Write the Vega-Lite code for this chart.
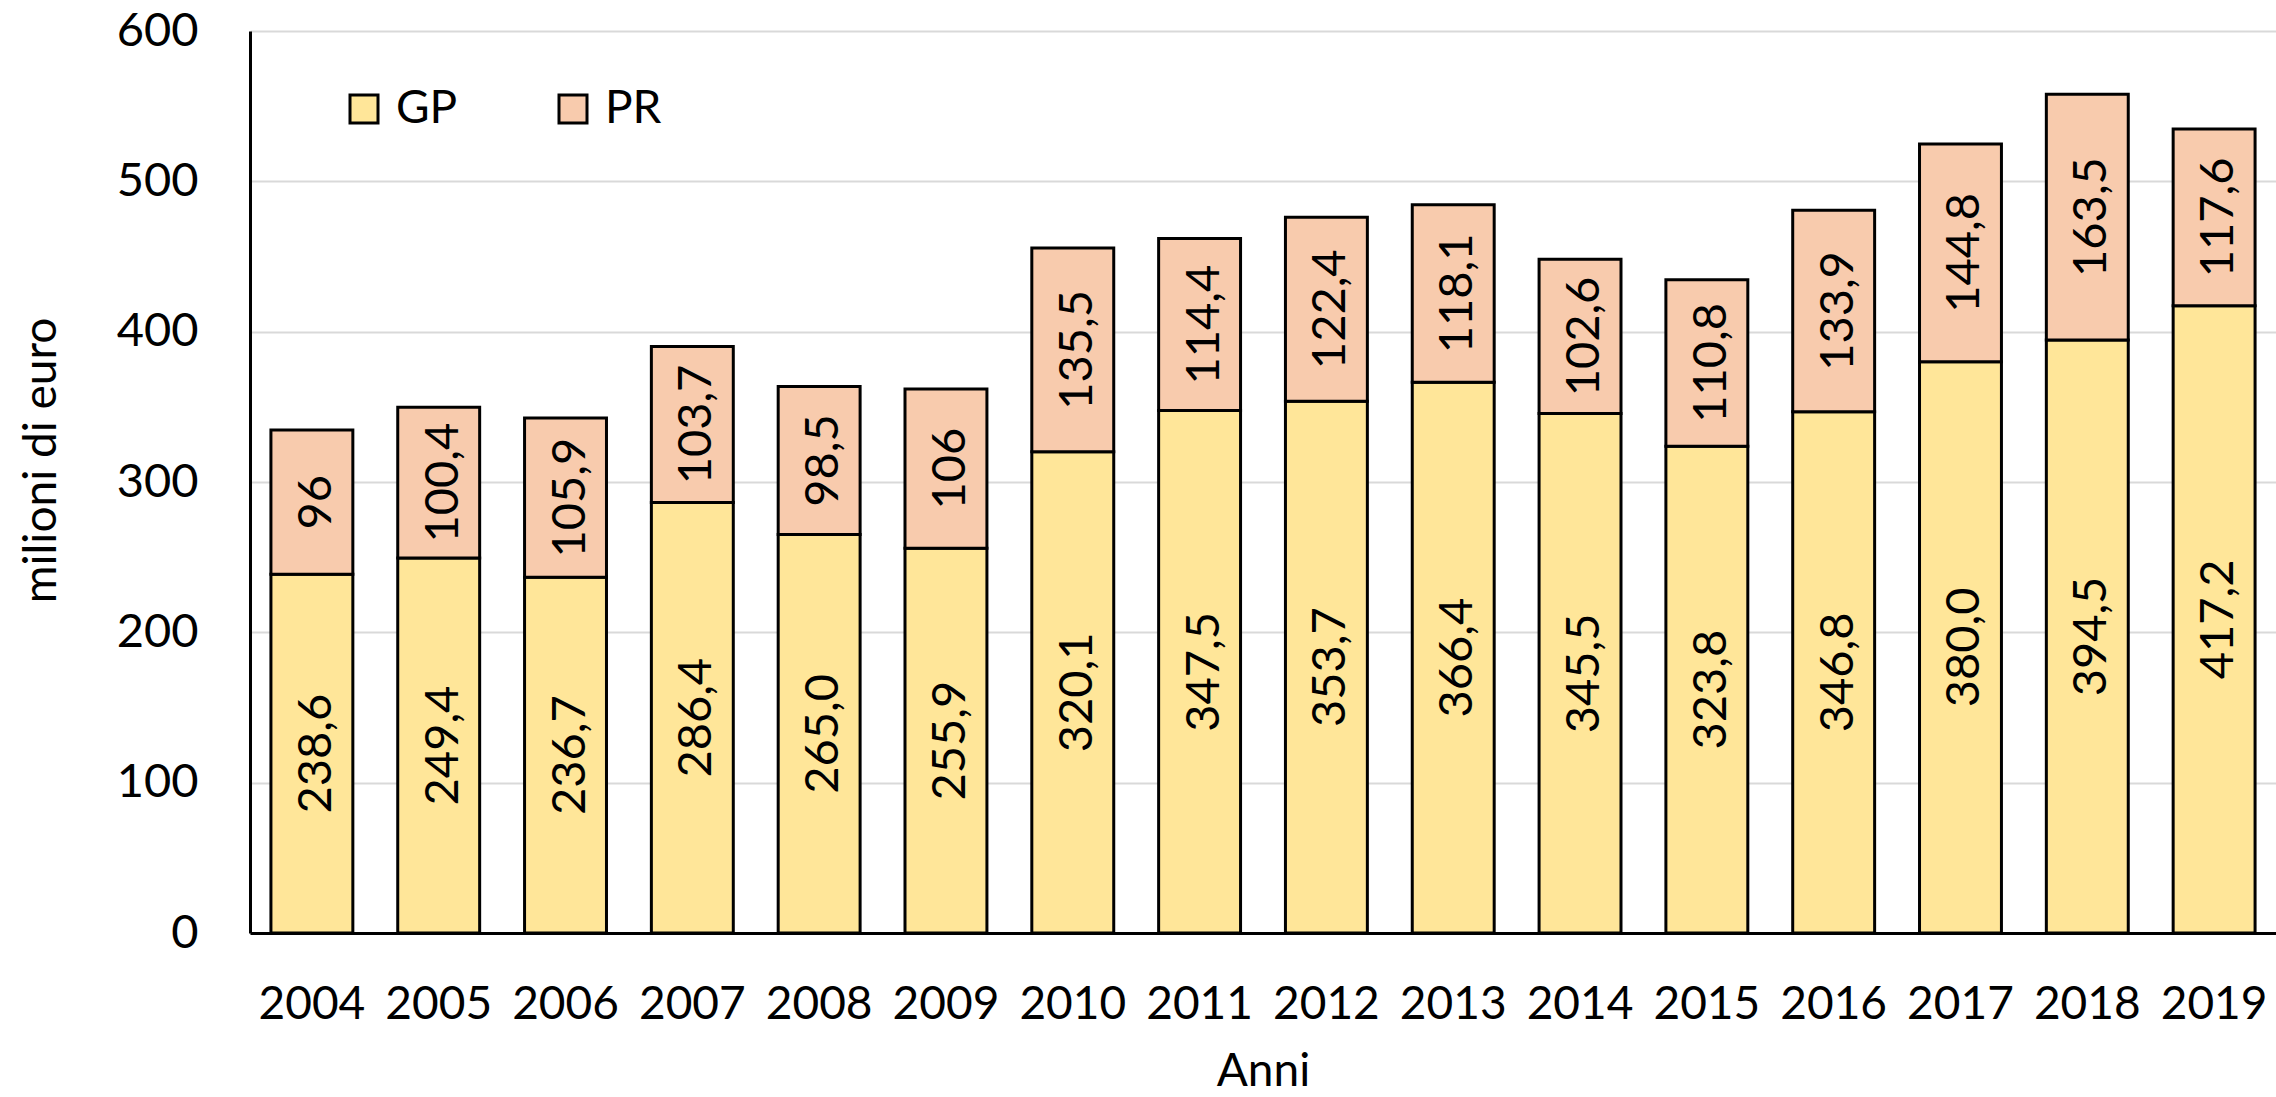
{
  "$schema": "https://vega.github.io/schema/vega-lite/v6.json",
  "autosize": {"type": "none"},
  "width": 2026,
  "height": 902,
  "padding": {"left": 250, "top": 31, "right": 0, "bottom": 164},
  "background": "white",
  "config": {
    "view": {"stroke": null},
    "font": "Lato",
    "text": {"font": "Lato"},
    "axis": {"labelFont": "Lato", "titleFont": "Lato", "labelColor": "black", "titleColor": "black", "titleFontWeight": "normal"},
    "legend": {"labelFont": "Lato"}
  },
  "data": {
    "values": [
      {"anno": "2004", "serie": "GP", "valore": 238.6, "etichetta": "238,6"},
      {"anno": "2004", "serie": "PR", "valore": 96, "etichetta": "96"},
      {"anno": "2005", "serie": "GP", "valore": 249.4, "etichetta": "249,4"},
      {"anno": "2005", "serie": "PR", "valore": 100.4, "etichetta": "100,4"},
      {"anno": "2006", "serie": "GP", "valore": 236.7, "etichetta": "236,7"},
      {"anno": "2006", "serie": "PR", "valore": 105.9, "etichetta": "105,9"},
      {"anno": "2007", "serie": "GP", "valore": 286.4, "etichetta": "286,4"},
      {"anno": "2007", "serie": "PR", "valore": 103.7, "etichetta": "103,7"},
      {"anno": "2008", "serie": "GP", "valore": 265.0, "etichetta": "265,0"},
      {"anno": "2008", "serie": "PR", "valore": 98.5, "etichetta": "98,5"},
      {"anno": "2009", "serie": "GP", "valore": 255.9, "etichetta": "255,9"},
      {"anno": "2009", "serie": "PR", "valore": 106, "etichetta": "106"},
      {"anno": "2010", "serie": "GP", "valore": 320.1, "etichetta": "320,1"},
      {"anno": "2010", "serie": "PR", "valore": 135.5, "etichetta": "135,5"},
      {"anno": "2011", "serie": "GP", "valore": 347.5, "etichetta": "347,5"},
      {"anno": "2011", "serie": "PR", "valore": 114.4, "etichetta": "114,4"},
      {"anno": "2012", "serie": "GP", "valore": 353.7, "etichetta": "353,7"},
      {"anno": "2012", "serie": "PR", "valore": 122.4, "etichetta": "122,4"},
      {"anno": "2013", "serie": "GP", "valore": 366.4, "etichetta": "366,4"},
      {"anno": "2013", "serie": "PR", "valore": 118.1, "etichetta": "118,1"},
      {"anno": "2014", "serie": "GP", "valore": 345.5, "etichetta": "345,5"},
      {"anno": "2014", "serie": "PR", "valore": 102.6, "etichetta": "102,6"},
      {"anno": "2015", "serie": "GP", "valore": 323.8, "etichetta": "323,8"},
      {"anno": "2015", "serie": "PR", "valore": 110.8, "etichetta": "110,8"},
      {"anno": "2016", "serie": "GP", "valore": 346.8, "etichetta": "346,8"},
      {"anno": "2016", "serie": "PR", "valore": 133.9, "etichetta": "133,9"},
      {"anno": "2017", "serie": "GP", "valore": 380.0, "etichetta": "380,0"},
      {"anno": "2017", "serie": "PR", "valore": 144.8, "etichetta": "144,8"},
      {"anno": "2018", "serie": "GP", "valore": 394.5, "etichetta": "394,5"},
      {"anno": "2018", "serie": "PR", "valore": 163.5, "etichetta": "163,5"},
      {"anno": "2019", "serie": "GP", "valore": 417.2, "etichetta": "417,2"},
      {"anno": "2019", "serie": "PR", "valore": 117.6, "etichetta": "117,6"}
    ]
  },
  "transform": [
    {"stack": "valore", "groupby": ["anno"], "sort": [{"field": "serie", "order": "ascending"}], "as": ["v0", "v1"]},
    {"calculate": "(datum.v0 + datum.v1) / 2", "as": "mid"}
  ],
  "encoding": {
    "x": {
      "field": "anno",
      "type": "nominal",
      "scale": {"paddingInner": 0.354, "paddingOuter": 0.165},
      "axis": {
        "title": "Anni",
        "labelAngle": 0,
        "ticks": false,
        "labelPadding": 49,
        "labelFontSize": 46,
        "domainColor": "black",
        "domainWidth": 3,
        "titleFontSize": 46,
        "titleY": 152,
        "titleBaseline": "alphabetic"
      }
    }
  },
  "layer": [
    {
      "mark": {"type": "bar", "stroke": "black", "strokeWidth": 3},
      "encoding": {
        "y": {
          "field": "v1",
          "type": "quantitative",
          "scale": {"domain": [0, 600], "nice": false},
          "axis": {
            "title": "milioni di euro",
            "values": [0, 100, 200, 300, 400, 500, 600],
            "ticks": false,
            "labelPadding": 52,
            "labelFontSize": 47,
            "gridColor": "#D9D9D9",
            "gridWidth": 2,
            "domainColor": "black",
            "domainWidth": 3,
            "titleFontSize": 46,
            "titleX": -195,
            "titleY": 429,
            "titleBaseline": "alphabetic"
          }
        },
        "y2": {"field": "v0"},
        "color": {
          "field": "serie",
          "type": "nominal",
          "scale": {"domain": ["GP", "PR"], "range": ["#FFE699", "#F8CBAD"]},
          "legend": {
            "title": null,
            "orient": "none",
            "legendX": 91,
            "legendY": 55,
            "direction": "horizontal",
            "padding": 0,
            "symbolType": "square",
            "symbolSize": 784,
            "symbolStrokeWidth": 3,
            "symbolStrokeColor": "black",
            "labelFontSize": 46,
            "labelOffset": 9,
            "columnPadding": 92,
            "labelColor": "black"
          }
        }
      }
    },
    {
      "mark": {"type": "text", "angle": 270, "align": "center", "baseline": "middle", "fontSize": 47, "color": "black", "dy": 5},
      "encoding": {
        "y": {"field": "mid", "type": "quantitative"},
        "text": {"field": "etichetta", "type": "nominal"}
      }
    }
  ]
}
